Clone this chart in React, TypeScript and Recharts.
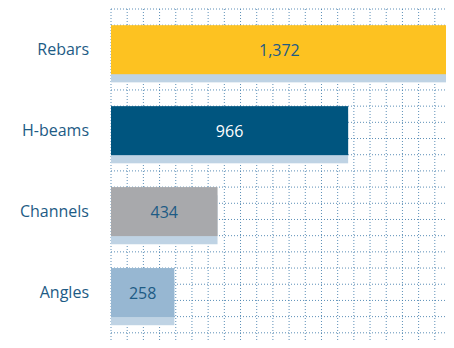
import React from 'react';
import { BarChart, Bar, XAxis, YAxis, CartesianGrid, Cell, LabelList } from 'recharts';

const categories = ['Rebars', 'H-beams', 'Channels', 'Angles'];
const values = [1372, 966, 434, 258];

const barColors = ['#FDC221', '#00557F', '#A8A9AC', '#97B7D2'];
const labelColors = ['#1D5B85', '#FFFFFF', '#1D5B85', '#1D5B85'];
const shadowColor = '#BFD3E4';
const textColor = '#1D5B85';
const gridColor = '#3F7BAA';
const FONT = '"Open Sans", sans-serif';

const data = categories.map((name, i) => ({ name, value: values[i] }));

const CELLS = 21;

const ShadowBar = (props: any) => {
  const { x, y, width, height, fill } = props;
  if (width == null || height == null) return null;
  const off = height / 6;
  return (
    <g>
      <rect x={x} y={y + off} width={width} height={height} fill={shadowColor} />
      <rect x={x} y={y} width={width} height={height} fill={fill} />
    </g>
  );
};

const BarLabel = (props: any) => {
  const { x, y, width, height, value, index } = props;
  return (
    <text
      x={x + width / 2}
      y={y + height / 2}
      textAnchor="middle"
      dominantBaseline="central"
      fill={labelColors[index] || textColor}
      fontFamily={FONT}
      fontSize={16}
    >
      {Number(value).toLocaleString('en-US')}
    </text>
  );
};

export default function App() {
  return (
    <div style={{ width: 446, height: 332, overflow: 'hidden' }}>
      <BarChart
        width={446}
        height={341}
        data={data}
        layout="vertical"
        margin={{ top: 1, right: 3, bottom: 0, left: 0 }}
        barCategoryGap="20%"
      >
        <CartesianGrid
          stroke={gridColor}
          strokeOpacity={0.85}
          strokeDasharray="1 2"
          verticalCoordinatesGenerator={({ offset }: any) =>
            Array.from({ length: CELLS + 1 }, (_, k) => offset.left + (offset.width * k) / CELLS)
          }
          horizontalCoordinatesGenerator={({ offset }: any) =>
            Array.from({ length: CELLS + 1 }, (_, k) => offset.top + (offset.height * k) / CELLS)
          }
        />
        <XAxis type="number" hide domain={[0, 1385]} allowDataOverflow />
        <YAxis
          type="category"
          dataKey="name"
          width={103}
          axisLine={false}
          tickLine={false}
          tickSize={0}
          tickMargin={22}
          padding={{ top: 0, bottom: 340 / CELLS }}
          tick={{ fill: textColor, fontFamily: FONT, fontSize: 16 }}
        />
        <Bar dataKey="value" isAnimationActive={false} shape={<ShadowBar />}>
          {data.map((d, i) => (
            <Cell key={d.name} fill={barColors[i]} />
          ))}
          <LabelList dataKey="value" content={<BarLabel />} />
        </Bar>
      </BarChart>
    </div>
  );
}
